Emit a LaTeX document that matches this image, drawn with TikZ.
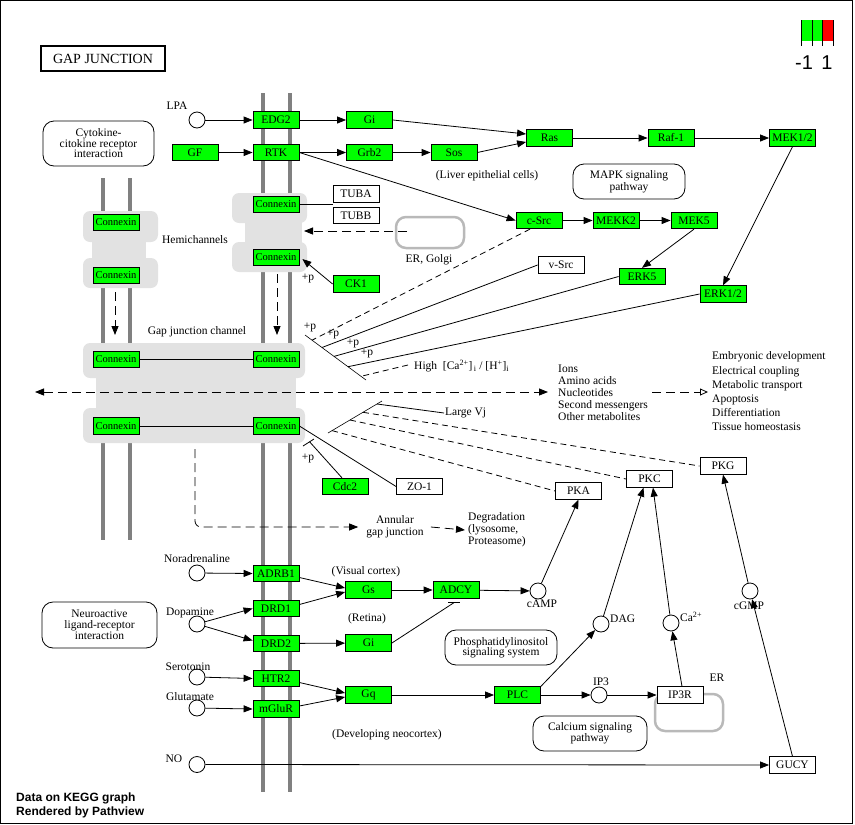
\documentclass[tikz,border=0pt]{standalone}
\usepackage{fontspec}
\setmainfont{Liberation Serif}
\newfontfamily\lsans{Liberation Sans}
\usetikzlibrary{arrows.meta,calc}
\definecolor{kgreen}{RGB}{0,255,0}
\definecolor{kred}{RGB}{255,0,0}
\definecolor{memb}{RGB}{128,128,128}
\definecolor{gjfill}{RGB}{226,226,226}
\definecolor{orgl}{RGB}{185,185,185}
\begin{document}
\begin{tikzpicture}[x=1pt,y=-1pt,
  every node/.style={font=\fontsize{11.5}{12}\selectfont},
  gene/.style={draw, line width=0.8pt, fill=kgreen, minimum width=46pt, minimum height=16.5pt, inner sep=0pt},
  wgene/.style={gene, fill=white},
  cxbox/.style={gene, font=\fontsize{10.5}{11}\selectfont},
  cpd/.style={circle, draw, line width=0.8pt, fill=white, minimum size=16pt, inner sep=0pt},
  pathw/.style={draw, line width=0.8pt, rounded corners=11pt, align=center, inner sep=0pt},
  lbl/.style={inner sep=0pt},
  con/.style={line width=0.8pt},
  arr/.style={con, -{Triangle[length=9pt,width=7pt]}},
  darr/.style={arr, dash pattern=on 9pt off 5pt},
  dcon/.style={con, dash pattern=on 6pt off 4pt},
  membr/.style={line width=4pt, memb},
  organ/.style={draw=orgl, line width=2.5pt, rounded corners=10pt},
]
\useasboundingbox (0,0) rectangle (855,825);
\draw[line width=1pt] (0.5,0.5) rectangle (852.5,823.5);

% title
\node[draw, line width=2pt, minimum width=124pt, minimum height=25pt, inner sep=0pt, font=\fontsize{14}{14}\selectfont] (title) at (103,58.5) {GAP JUNCTION};

% legend
\fill[kgreen] (801,20) rectangle (822,41);
\fill[kred] (822,20) rectangle (833,41);
\foreach \x in {801,812,822,833} \draw[line width=1pt] (\x,20) -- (\x,46);
\node[lbl, font=\lsans\fontsize{20}{20}\selectfont] (lgm) at (804,63) {-1};
\node[lbl, font=\lsans\fontsize{20}{20}\selectfont] (lgp) at (827,63) {1};

% membranes
\draw[membr] (263,93) -- (263,792);
\draw[membr] (290,93) -- (290,792);
\draw[membr] (103,178) -- (103,540);
\draw[membr] (130,178) -- (130,540);

% gray connexon areas
\fill[gjfill] (92,222) rectangle (146,278);
\fill[gjfill, rounded corners=7pt] (83,211) rectangle (158,242);
\fill[gjfill, rounded corners=7pt] (83,258) rectangle (158,288);
\fill[gjfill] (245,205) rectangle (302,262);
\fill[gjfill, rounded corners=7pt] (232,193) rectangle (307,223);
\fill[gjfill, rounded corners=7pt] (232,242) rectangle (307,272);
\fill[gjfill] (96,370) rectangle (296,415);
\fill[gjfill, rounded corners=7pt] (83,343) rectangle (305,378);
\fill[gjfill, rounded corners=7pt] (83,408) rectangle (305,443);

% organelles
\draw[organ] (396,217) rectangle (464,248);
\draw[organ] (655,694) rectangle (723,731);

% pathway boxes
\node[pathw, minimum width=111pt, minimum height=45pt, font=\fontsize{11.5}{10.5}\selectfont] (cyto) at (98.5,143.5) {Cytokine-\\citokine receptor\\interaction};
\node[pathw, minimum width=112pt, minimum height=35pt] (mapk) at (629,181.5) {MAPK signaling\\pathway};
\node[pathw, minimum width=115pt, minimum height=46pt, font=\fontsize{11.5}{11}\selectfont] (neuro) at (99.5,625) {Neuroactive\\ligand-receptor\\interaction};
\node[pathw, minimum width=112pt, minimum height=35pt, font=\fontsize{11.5}{10.5}\selectfont] (phos) at (501,647.5) {Phosphatidylinositol\\signaling system};
\node[pathw, minimum width=114pt, minimum height=35pt, font=\fontsize{11.5}{11}\selectfont] (calc) at (590,733.5) {Calcium signaling\\pathway};

% green genes
\node[gene] (edg2) at (276,120) {EDG2};
\node[gene] (rtk) at (276,152.5) {RTK};
\node[gene] (gf) at (195,152.5) {GF};
\node[gene] (gi1) at (369.5,120) {Gi};
\node[gene] (grb2) at (369.5,152.5) {Grb2};
\node[gene] (sos) at (454,152.5) {Sos};
\node[gene] (ras) at (549.5,138) {Ras};
\node[gene] (raf) at (671,138) {Raf-1};
\node[gene] (mek12) at (792.5,138) {MEK1/2};
\node[gene] (csrc) at (539,220.5) {c-Src};
\node[gene] (mekk2) at (616,220.5) {MEKK2};
\node[gene] (mek5) at (694,220.5) {MEK5};
\node[gene] (erk5) at (642,276.5) {ERK5};
\node[gene] (erk12) at (723,294) {ERK1/2};
\node[gene] (ck1) at (356,284) {CK1};
\node[gene] (cdc2) at (345,486.5) {Cdc2};
\node[cxbox] (cx1) at (116,222.5) {Connexin};
\node[cxbox] (cx2) at (116,275.5) {Connexin};
\node[cxbox] (cx3) at (276,204.5) {Connexin};
\node[cxbox] (cx4) at (276,257.5) {Connexin};
\node[cxbox] (cx5) at (116,359.5) {Connexin};
\node[cxbox] (cx6) at (276,359.5) {Connexin};
\node[cxbox] (cx7) at (116,426) {Connexin};
\node[cxbox] (cx8) at (276,426) {Connexin};
\node[gene] (adrb1) at (276,573.5) {ADRB1};
\node[gene] (drd1) at (276,608.5) {DRD1};
\node[gene] (drd2) at (276,643.5) {DRD2};
\node[gene] (htr2) at (276,678.5) {HTR2};
\node[gene] (mglur) at (276,709) {mGluR};
\node[gene] (gs) at (368.5,590) {Gs};
\node[gene] (gi2) at (368.5,643) {Gi};
\node[gene] (gq) at (368.5,695) {Gq};
\node[gene] (adcy) at (456,590) {ADCY};
\node[gene] (plc) at (517.5,695) {PLC};

% white genes
\node[wgene] (tuba) at (356,194) {TUBA};
\node[wgene] (tubb) at (356,215.5) {TUBB};
\node[wgene] (vsrc) at (561,265) {v-Src};
\node[wgene] (zo1) at (419.5,486.5) {ZO-1};
\node[wgene] (pka) at (578.5,491) {PKA};
\node[wgene] (pkc) at (649.5,479) {PKC};
\node[wgene] (pkg) at (723,466) {PKG};
\node[wgene] (ip3r) at (680,695) {IP3R};
\node[wgene] (gucy) at (792.5,765) {GUCY};

% compounds
\node[cpd] (lpa) at (197,120) {};
\node[cpd] (nor) at (197,573) {};
\node[cpd] (dop) at (197,624) {};
\node[cpd] (ser) at (197,677) {};
\node[cpd] (glu) at (197,708) {};
\node[cpd] (no) at (197,764.5) {};
\node[cpd] (camp) at (538,591) {};
\node[cpd] (dag) at (601,624) {};
\node[cpd] (ca) at (671,623) {};
\node[cpd] (cgmp) at (750,591) {};
\node[cpd] (ip3) at (599,695) {};

% labels
\node[lbl] at (177,106) {LPA};
\node[lbl] at (195,240) {Hemichannels};
\node[lbl] at (197,332) {Gap junction channel};
\node[lbl] at (429,260) {ER, Golgi};
\node[lbl] at (487,176) {(Liver epithelial cells)};
\node[lbl] at (308,278) {+p};
\node[lbl] at (308,458) {+p};
\node[lbl] at (310,327) {+p};
\node[lbl] at (333,334) {+p};
\node[lbl] at (353,343) {+p};
\node[lbl] at (367,353) {+p};
\node[lbl, anchor=west] (high) at (414,366) {High~ [Ca\textsuperscript{2+}]\textsubscript{\,i} / [H\textsuperscript{+}]\textsubscript{i}};
\node[lbl, anchor=west] (lvj) at (445,413) {Large Vj};
\node[lbl, anchor=west, align=left] (ions) at (558,393) {Ions\\Amino acids\\Nucleotides\\Second messengers\\Other metabolites};
\node[lbl, anchor=west, align=left, font=\fontsize{11.5}{14.2}\selectfont] (outc) at (712,391.5) {Embryonic development\\Electrical coupling\\Metabolic transport\\Apoptosis\\Differentiation\\Tissue homeostasis};
\node[lbl, align=center] (annu) at (395,527) {Annular\\gap junction};
\node[lbl, anchor=west, align=left] (degr) at (468,530) {Degradation\\(lysosome,\\Proteasome)};
\node[lbl] at (366,572) {(Visual cortex)};
\node[lbl] at (367,619) {(Retina)};
\node[lbl, anchor=west] at (332,735) {(Developing neocortex)};
\node[lbl] at (542,604) {cAMP};
\node[lbl, anchor=west] at (610,619) {DAG};
\node[lbl, anchor=west] at (680,617) {Ca\textsuperscript{2+}};
\node[lbl] at (601,682) {IP3};
\node[lbl] at (749,606) {cGMP};
\node[lbl] at (717,678) {ER};
\node[lbl] at (197,559) {Noradrenaline};
\node[lbl] at (190,613) {Dopamine};
\node[lbl] at (188,667) {Serotonin};
\node[lbl] at (190,697) {Glutamate};
\node[lbl] at (174,759) {NO};
\node[lbl, anchor=west, font=\lsans\bfseries\fontsize{12}{12}\selectfont] (cr1) at (16,798) {Data on KEGG graph};
\node[lbl, anchor=west, font=\lsans\bfseries\fontsize{12}{12}\selectfont] (cr2) at (16,812) {Rendered by Pathview};

% top signaling
\draw[arr] (lpa) -- (edg2.west);
\draw[arr] (edg2) -- (gi1);
\draw[arr] (gf) -- (rtk);
\draw[arr] (rtk) -- (grb2);
\draw[arr] (grb2) -- (sos);
\draw[arr] (gi1.east) -- ([yshift=4pt]ras.west);
\draw[arr] (sos.east) -- ([yshift=-4pt]ras.west);
\draw[arr] (ras) -- (raf);
\draw[arr] (raf) -- (mek12);
\draw[arr] (mek12.south) -- (erk12.north);
\draw[arr] (rtk.east) -- (csrc.west);
\draw[arr] (csrc) -- (mekk2);
\draw[arr] (mekk2) -- (mek5);
\draw[arr] (mek5.south) -- (erk5.north);

% hemichannel region
\draw[con] (cx3.east) -- (cx3.east -| tuba.west);
\coordinate (ergs) at (407,231);
\coordinate (hemr) at (304,231);
\draw[darr] (ergs) -- (hemr);
\draw[arr] (ck1.west) -- ([xshift=3pt,yshift=-1.5pt]cx4.east);
\coordinate (dl0) at (115,292);
\coordinate (dl1) at (115,335);
\coordinate (dr0) at (277,274);
\coordinate (dr1) at (277,335);
\draw[darr] (dl0) -- (dl1);
\draw[darr] (dr0) -- (dr1);

% gap junction channel
\draw[con] (cx5) -- (cx6);
\draw[con] (cx7) -- (cx8);
\coordinate (gjl) at (35,392);
\coordinate (gjr) at (548,392);
\draw[con, dash pattern=on 9pt off 5pt, {Triangle[length=9pt,width=7pt]}-{Triangle[length=9pt,width=7pt]}] (gjl) -- (gjr);
\coordinate (oa0) at (652,392);
\coordinate (oa1) at (708,392);
\draw[con, dash pattern=on 9pt off 5pt, -{Triangle[open,length=8pt,width=7pt]}] (oa0) -- (oa1);

% upper fan
\coordinate (fu1) at (305,335);
\coordinate (fu2) at (366,380);
\draw[con, line width=0.6pt] (fu1) -- (fu2);
\coordinate (p1) at (312,340.2);
\coordinate (p2) at (322,347.5);
\coordinate (p3) at (334,356.4);
\coordinate (p4) at (348,366.7);
\coordinate (p5) at (361,376.3);
\draw[dcon] ([xshift=-9pt]csrc.south) -- (p1);
\draw[con] (vsrc.west) -- (p2);
\draw[con] (erk5.west) -- (p3);
\draw[con] (erk12.west) -- (p4);
\draw[dcon] ([xshift=-6pt,yshift=1pt]high.west) -- (p5);

% lower fan
\coordinate (fl1) at (328,433);
\coordinate (fl2) at (382,401);
\draw[con, line width=0.6pt] (fl1) -- (fl2);
\coordinate (q1) at (377,404);
\coordinate (q2) at (363,412.3);
\coordinate (q3) at (350,420);
\coordinate (q4) at (332,430.6);
\draw[con] (q1) -- ([xshift=-1pt]lvj.west);
\draw[dcon] (q2) -- (pkg.west);
\draw[dcon] (q3) -- (pkc.west);
\draw[dcon] (q4) -- (pka.west);

% Cdc2 and ZO-1
\coordinate (cb1) at (303,446);
\coordinate (cb2) at (314,439);
\draw[con] (cb1) -- (cb2);
\draw[con] ([xshift=-3pt]cdc2.north) -- ($(cb1)!0.6!(cb2)$);
\draw[con] (cx8.east) -- (zo1.west);

% annular
\coordinate (an0) at (195,449);
\draw[darr, rounded corners=6pt] (an0) |- ([xshift=-8pt]annu.west);
\draw[darr] ([xshift=7pt]annu.east) -- ([xshift=-3pt]degr.west);

% lower signaling
\draw[arr] (nor) -- (adrb1.west);
\draw[arr] (dop) -- (drd1.west);
\draw[arr] (dop) -- ([yshift=3pt]drd2.west);
\draw[arr] (ser) -- (htr2.west);
\draw[arr] (glu) -- (mglur.west);
\draw[arr] ([yshift=-4pt]adrb1.east) -- ([yshift=2pt]gs.west);
\draw[arr] ([yshift=4pt]drd1.east) -- ([yshift=-2pt]gs.west);
\draw[arr] (drd2) -- (gi2);
\draw[arr] ([yshift=-4pt]htr2.east) -- ([yshift=2pt]gq.west);
\draw[arr] ([yshift=3pt]mglur.east) -- ([yshift=-2pt]gq.west);
\draw[arr] (no) -- (gucy.west);
\draw[arr] (gs) -- (adcy);
\draw[con] (gi2.east) -- ([xshift=-2pt,yshift=-4pt]adcy.south);
\draw[con] ([xshift=-8pt,yshift=-4pt]adcy.south) -- ([xshift=4pt,yshift=-4pt]adcy.south);
\draw[arr] (adcy) -- (camp);
\draw[arr] (camp) -- (pka.south);
\draw[arr] (gq) -- (plc);
\draw[arr] (plc) -- (ip3);
\draw[arr] (ip3) -- (ip3r);
\draw[arr] (plc.north east) -- (dag);
\draw[arr] (dag) -- ([xshift=-6pt]pkc.south);
\draw[arr] (ca) -- ([xshift=3.5pt]pkc.south);
\draw[arr] ([xshift=2pt]ip3r.north) -- (ca);
\draw[arr] (gucy.north) -- (cgmp);
\draw[arr] (cgmp) -- (pkg.south);
\end{tikzpicture}
\end{document}
